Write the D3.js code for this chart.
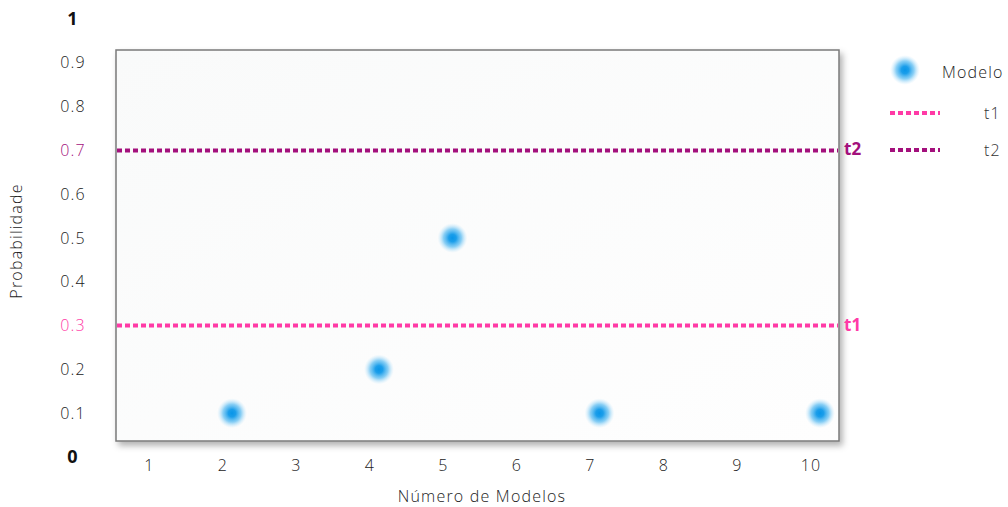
<!DOCTYPE html>
<html>
<head>
<meta charset="utf-8">
<script src="https://cdn.jsdelivr.net/npm/d3@7"></script>
<style>
  body { margin: 0; background: #fff; }
  svg { font-family: 'Open Sans', sans-serif; letter-spacing: 1.2px; font-weight: 300; }
</style>
</head>
<body>
<svg width="1008" height="507"></svg>
<script>
// data
const modelNumbers = [2, 4, 5, 7, 10]
const probabilities = [0.1, 0.2, 0.5, 0.1, 0.1]
const xTicks = [1, 2, 3, 4, 5, 6, 7, 8, 9, 10]
const yTicks = [0, 0.1, 0.2, 0.3, 0.4, 0.5, 0.6, 0.7, 0.8, 0.9, 1]
const thresholdNames = ['t1', 't2']
const thresholdValues = [0.3, 0.7]
const thresholdColors = ['#ff3aa6', '#a3107c']

const svg = d3.select('svg')
const defs = svg.append('defs')

const grad = defs.append('radialGradient').attr('id', 'dot')
grad.append('stop').attr('offset', '0%').attr('stop-color', '#0895e8')
grad.append('stop').attr('offset', '25%').attr('stop-color', '#1c9eea')
grad.append('stop').attr('offset', '60%').attr('stop-color', '#62bff2').attr('stop-opacity', 0.75)
grad.append('stop').attr('offset', '100%').attr('stop-color', '#c0e5fa').attr('stop-opacity', 0)

const bg = defs.append('linearGradient').attr('id', 'bg')
  .attr('x1', 0).attr('y1', 0).attr('x2', 1).attr('y2', 1)
bg.append('stop').attr('offset', '0%').attr('stop-color', '#f9fafa')
bg.append('stop').attr('offset', '100%').attr('stop-color', '#fefefe')

const shadow = defs.append('filter').attr('id', 'shadow')
  .attr('x', '-5%').attr('y', '-5%').attr('width', '115%').attr('height', '115%')
shadow.append('feDropShadow').attr('dx', 3).attr('dy', 4).attr('stdDeviation', 3)
  .attr('flood-color', '#000').attr('flood-opacity', 0.3)

const x = d3.scaleLinear().domain([2, 10]).range([232, 820])
const y = d3.scaleLinear().domain([0, 1]).range([457, 19])

const box = { left: 116, top: 50, right: 839, bottom: 441 }

svg.append('rect')
  .attr('x', box.left).attr('y', box.top)
  .attr('width', box.right - box.left).attr('height', box.bottom - box.top)
  .attr('fill', 'url(#bg)')
  .attr('stroke', '#7a7a7a').attr('stroke-width', 1.5)
  .attr('filter', 'url(#shadow)')

// y labels
svg.append('g').selectAll('text')
  .data(yTicks)
  .join('text')
  .attr('x', 73)
  .attr('y', (d) => y(d))
  .attr('dy', '0.35em')
  .attr('text-anchor', 'middle')
  .attr('font-size', (d) => (d === 0 || d === 1) ? 18 : 16)
  .attr('font-weight', (d) => (d === 0 || d === 1) ? 700 : 300)
  .attr('fill', (d) => {
    const i = thresholdValues.indexOf(d)
    return i >= 0 ? thresholdColors[i] : (d === 0 || d === 1 ? '#111' : '#222')
  })
  .text((d) => d)

// x labels
svg.append('g').selectAll('text')
  .data(xTicks)
  .join('text')
  .attr('x', (d) => x(d) - 9)
  .attr('y', 465)
  .attr('dy', '0.35em')
  .attr('text-anchor', 'middle')
  .attr('font-size', 16)
  .attr('fill', '#222')
  .text((d) => d)

// thresholds
const th = svg.append('g').selectAll('g')
  .data(thresholdNames)
  .join('g')
th.append('line')
  .attr('x1', box.left + 1).attr('x2', box.right - 1)
  .attr('y1', (d, i) => y(thresholdValues[i])).attr('y2', (d, i) => y(thresholdValues[i]))
  .attr('stroke', (d, i) => thresholdColors[i])
  .attr('stroke-width', 4)
  .attr('stroke-dasharray', '5 3')
th.append('text')
  .attr('x', 844)
  .attr('y', (d, i) => y(thresholdValues[i]) - 1)
  .attr('dy', '0.35em')
  .attr('font-size', 17)
  .attr('font-weight', 700)
  .attr('letter-spacing', 0)
  .attr('fill', (d, i) => thresholdColors[i])
  .text((d) => d)

// points
svg.append('g').selectAll('circle')
  .data(modelNumbers)
  .join('circle')
  .attr('cx', (d) => x(d))
  .attr('cy', (d, i) => y(probabilities[i]))
  .attr('r', 15)
  .attr('fill', 'url(#dot)')

// legend
const legend = svg.append('g')
legend.append('circle').attr('cx', 905).attr('cy', 70).attr('r', 15).attr('fill', 'url(#dot)')
legend.append('text').attr('x', 942).attr('y', 72).attr('dy', '0.35em')
  .attr('font-size', 16).attr('fill', '#222').text('Modelo')
legend.selectAll('.leg-line')
  .data(thresholdNames)
  .join('line')
  .attr('class', 'leg-line')
  .attr('x1', 890).attr('x2', 940)
  .attr('y1', (d, i) => 113 + i * 37).attr('y2', (d, i) => 113 + i * 37)
  .attr('stroke', (d, i) => thresholdColors[i])
  .attr('stroke-width', 4)
  .attr('stroke-dasharray', '5 3')
legend.selectAll('.leg-text')
  .data(thresholdNames)
  .join('text')
  .attr('class', 'leg-text')
  .attr('x', 984).attr('y', (d, i) => 113 + i * 37).attr('dy', '0.35em')
  .attr('font-size', 16).attr('fill', '#333')
  .text((d) => d)

// axis titles
svg.append('text')
  .attr('transform', 'translate(22,241) rotate(-90)')
  .attr('text-anchor', 'middle')
  .attr('font-size', 16).attr('fill', '#222')
  .text('Probabilidade')
svg.append('text')
  .attr('x', 482).attr('y', 496).attr('dy', '0.35em')
  .attr('text-anchor', 'middle')
  .attr('font-size', 16).attr('fill', '#222')
  .text('Número de Modelos')
</script>
</body>
</html>
